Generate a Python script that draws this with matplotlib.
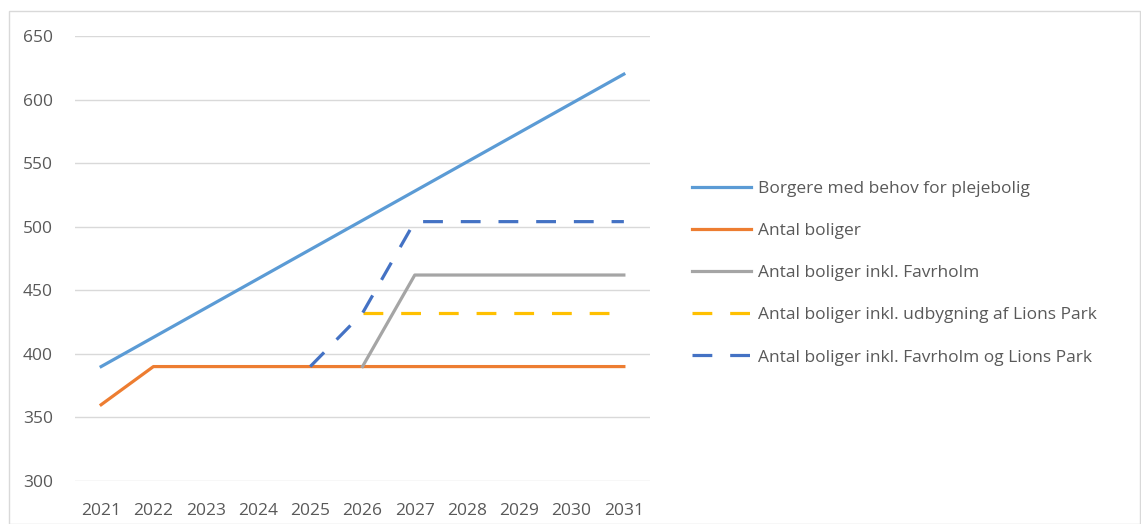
import matplotlib.pyplot as plt
from matplotlib.patches import Rectangle

plt.rcParams['font.family'] = ['Open Sans', 'DejaVu Sans']

years = [2021, 2022, 2023, 2024, 2025, 2026, 2027, 2028, 2029, 2030, 2031]

# Borgere med behov for plejebolig
borgere = [390, 413, 436, 459, 482, 505, 528, 551, 574, 597, 620]
# Antal boliger
boliger = [360, 390, 390, 390, 390, 390, 390, 390, 390, 390, 390]
# inkl. Favrholm (fra 2026)
favr_years = [2026, 2027, 2028, 2029, 2030, 2031]
favrholm = [390, 462, 462, 462, 462, 462]
# inkl. udbygning af Lions Park (fra 2026)
lions_years = [2026, 2027, 2028, 2029, 2030, 2031]
lions = [432, 432, 432, 432, 432, 432]
# inkl. Favrholm og Lions Park (fra 2025)
begge_years = [2025, 2026, 2027, 2028, 2029, 2030, 2031]
begge = [390, 432, 504, 504, 504, 504, 504]

txt = '#595959'

fig = plt.figure(figsize=(11.41, 5.24), dpi=100)
ax = fig.add_axes([75/1141, 1-481/524, (650-75)/1141, (481-36)/524])

lw = 2.3
ax.plot(years, borgere, color='#5B9BD5', lw=lw, label='Borgere med behov for plejebolig')
ax.plot(years, boliger, color='#ED7D31', lw=lw, label='Antal boliger')
ax.plot(favr_years, favrholm, color='#A5A5A5', lw=lw, label='Antal boliger inkl. Favrholm')
ax.plot(lions_years, lions, color='#FFC000', lw=lw, dashes=(6.2, 5.6),
        label='Antal boliger inkl. udbygning af Lions Park')
ax.plot(begge_years, begge, color='#4472C4', lw=lw, dashes=(6.2, 5.6),
        label='Antal boliger inkl. Favrholm og Lions Park')

ax.set_xlim(2020.5, 2031.5)
ax.set_ylim(300, 650)
ax.set_xticks(years)
ax.set_yticks(range(300, 651, 50))
ax.grid(axis='y', color='#D9D9D9', lw=1)
ax.set_axisbelow(True)
for s in ax.spines.values():
    s.set_visible(False)
ax.tick_params(length=0, labelsize=12.5, colors=txt)
ax.tick_params(axis='y', pad=16)
ax.tick_params(axis='x', pad=16)

leg = fig.legend(loc='upper left', bbox_to_anchor=(676/1141, 1-165/524), frameon=False,
                 fontsize=12.5, labelcolor=txt, handlelength=3.4, handletextpad=0.4,
                 labelspacing=1.5)

# chart border
fig.patches.append(Rectangle((9/1141, 0), 1-9/1141-1/1141, 1-11/524, transform=fig.transFigure,
                             fill=False, edgecolor='#D9D9D9', lw=1))

fig.savefig('out.png', dpi=100)
